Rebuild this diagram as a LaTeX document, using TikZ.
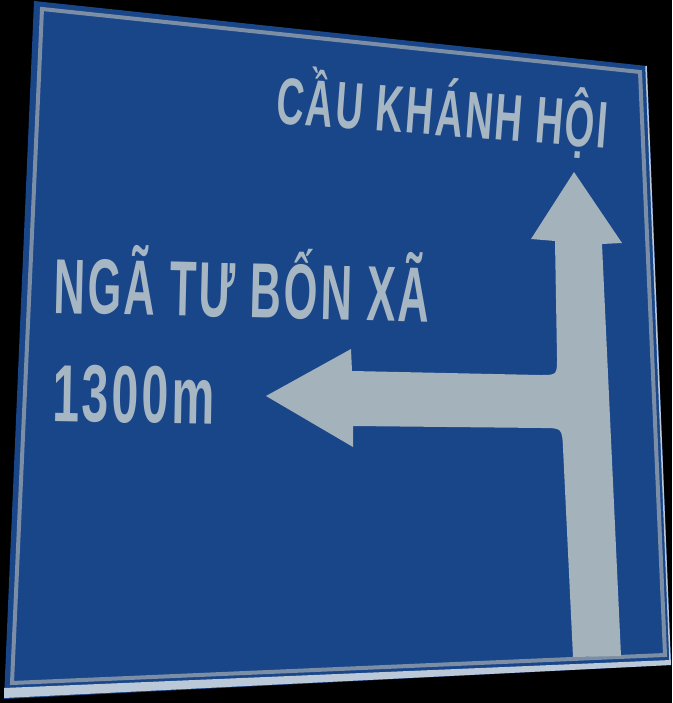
\documentclass[tikz,border=0pt]{standalone}
\usepackage{fontspec}
\setmainfont{Liberation Sans}
\definecolor{signblue}{RGB}{25,69,137}
\definecolor{textgrey}{RGB}{166,182,194}
\definecolor{arrowgrey}{RGB}{164,178,187}
\definecolor{framegrey}{RGB}{124,142,166}
\definecolor{edgelight}{RGB}{186,200,216}
\newcommand{\signtext}[3]{\resizebox{#1}{\height}{\fontsize{#2}{#2}\selectfont\bfseries\addfontfeatures{LetterSpace=6}#3}}
\tikzset{signtxt/.style={text=textgrey, inner sep=0pt, anchor=base west}}
\begin{document}
\begin{tikzpicture}[x=1pt,y=-1pt]
\useasboundingbox (0,0) rectangle (672,703);
\fill[black] (0,0) rectangle (672,703);
% board
\fill[signblue] (34,1) -- (647,66) -- (671,665) -- (4,699) -- cycle;
% light bottom strip and right edge
\fill[edgelight] (4,688) -- (671,660) -- (671,665) -- (4,698) -- cycle;
\draw[edgelight, line width=1.5pt] (646,66) -- (670,660);
% frame line
\draw[framegrey, line width=4pt, line join=miter] (42,9) -- (640,72) -- (665,655) -- (12,683) -- cycle;
% arrow
\fill[arrowgrey] (573,657) -- (563,448) .. controls (562,428) .. (542,428)
  -- (353,426) -- (353,447) -- (266,396) -- (351,349) -- (352,371)
  -- (540,375) .. controls (557,375) .. (557,358)
  -- (555,241) -- (531,239) -- (574,172) -- (622,243) -- (602,244)
  -- (621,656) -- cycle;
% texts
\node[signtxt, rotate=-4.4] (cau) at (275,123) {\signtext{332pt}{66}{CẦU KHÁNH HỘI}};
\node[signtxt, rotate=-1.4] (nga) at (53,313) {\signtext{376pt}{78}{NGÃ TƯ BỐN XÃ}};
\node[signtxt, rotate=-1] (dist) at (52,421) {\signtext{162pt}{81}{1300m}};
\end{tikzpicture}
\end{document}
